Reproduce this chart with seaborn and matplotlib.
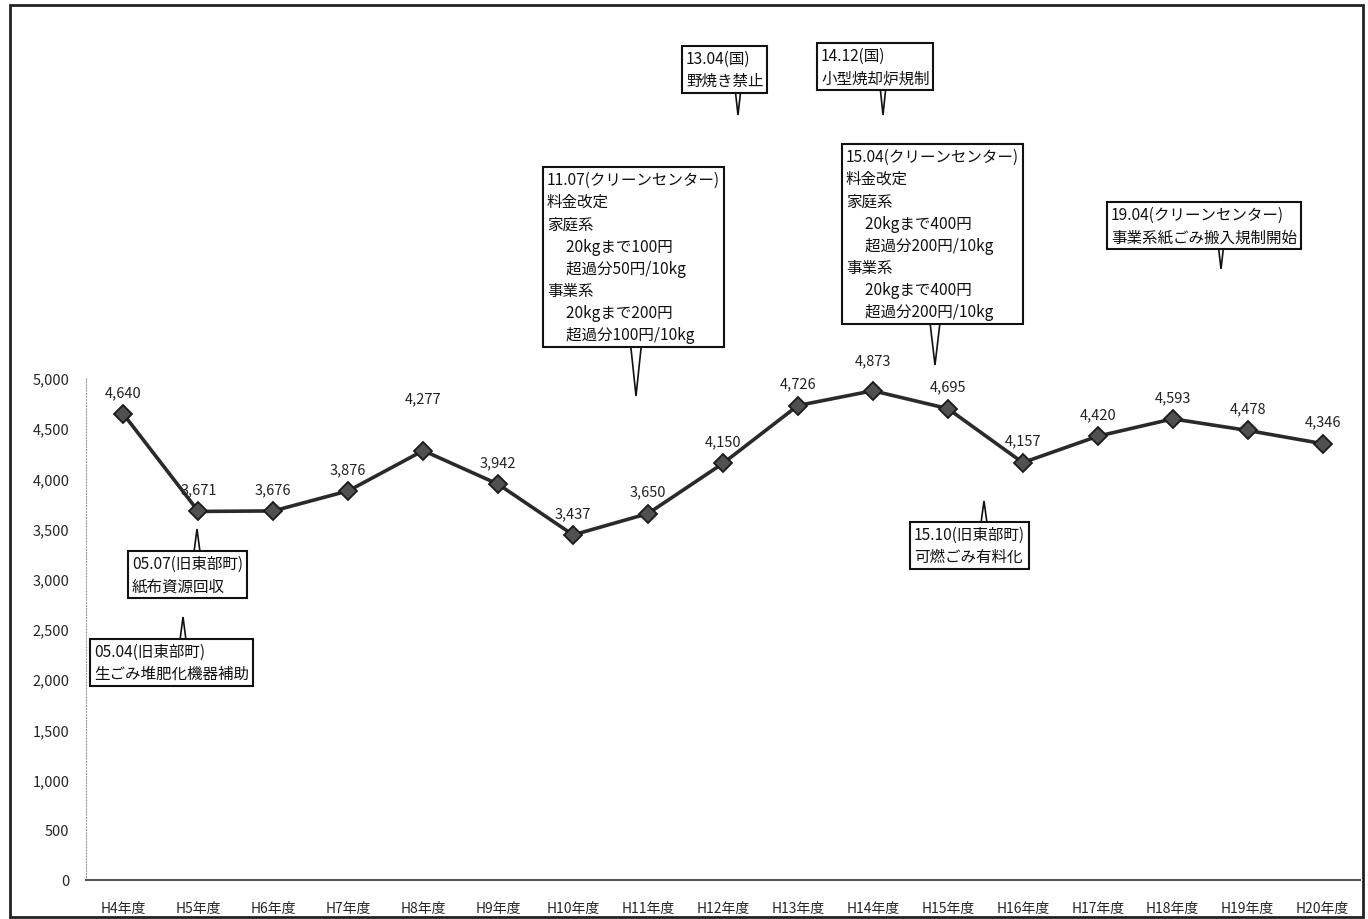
import numpy as np
import pandas as pd
import seaborn as sns
import matplotlib.pyplot as plt
from matplotlib.patches import Polygon, Rectangle

# data
years = ['H4年度', 'H5年度', 'H6年度', 'H7年度', 'H8年度', 'H9年度', 'H10年度', 'H11年度',
         'H12年度', 'H13年度', 'H14年度', 'H15年度', 'H16年度', 'H17年度', 'H18年度',
         'H19年度', 'H20年度']
amounts = [4640, 3671, 3676, 3876, 4277, 3942, 3437, 3650, 4150, 4726, 4873, 4695,
           4157, 4420, 4593, 4478, 4346]
y_ticks = list(range(0, 5001, 500))

notes = [
    '13.04(国)\n野焼き禁止',
    '14.12(国)\n小型焼却炉規制',
    '11.07(クリーンセンター)\n料金改定\n家庭系\n\u3000 20kgまで100円\n\u3000 超過分50円/10kg\n事業系\n\u3000 20kgまで200円\n\u3000 超過分100円/10kg',
    '15.04(クリーンセンター)\n料金改定\n家庭系\n\u3000 20kgまで400円\n\u3000 超過分200円/10kg\n事業系\n\u3000 20kgまで400円\n\u3000 超過分200円/10kg',
    '19.04(クリーンセンター)\n事業系紙ごみ搬入規制開始',
    '05.07(旧東部町)\n紙布資源回収',
    '05.04(旧東部町)\n生ごみ堆肥化機器補助',
    '15.10(旧東部町)\n可燃ごみ有料化',
]

# layout of callouts in image pixels: box left, box top, pointer x, pointer base y, tip y, half width
note_pos = [
    (682, 47, 738, 89, 116, 3),
    (817, 44, 883, 87, 116, 3),
    (543, 168, 636, 340, 397, 6),
    (842, 145, 935, 315, 366, 6),
    (1107, 203, 1221, 244, 270, 3),
    (128, 552, 197, 553, 530, 3),
    (90, 640, 183, 641, 618, 3),
    (910, 523, 984, 524, 502, 3),
]

# label offsets (pixels above marker)
label_offset = {4277: 52, 4873: 30}

W, H = 1368, 920

sns.set_style('white')
plt.rcParams['font.family'] = ['Noto Sans CJK JP', 'DejaVu Sans']

df = pd.DataFrame({'year': years, 'amount': amounts})
df['pos'] = np.arange(len(years))

fig = plt.figure(figsize=(W / 100, H / 100), dpi=100)
ax = fig.add_axes([86 / W, (H - 881) / H, (1360 - 86) / W, 502 / H])


def fx(x):
    return x / W


def fy(y):
    return 1 - y / H


sns.lineplot(data=df, x='pos', y='amount', ax=ax, sort=False, color='#2a2a2a', lw=2.6,
             marker='D', markersize=9.5, markerfacecolor='#505050', markeredgecolor='#1a1a1a',
             markeredgewidth=1.3)

ax.set_xlim(-0.5, len(years) - 0.5)
ax.set_ylim(0, 5000)
ax.set_yticks(y_ticks)
ax.set_yticklabels([f'{v:,}' for v in y_ticks], fontsize=10.5)
ax.set_xticks(df['pos'])
ax.set_xticklabels(years, fontsize=10)
ax.set_xticks(np.arange(0.5, len(years) - 0.4, 1), minor=True)
ax.tick_params(axis='x', which='major', length=0, pad=15)
ax.tick_params(axis='x', which='minor', length=5, color='#555555', width=1)
ax.tick_params(axis='y', length=4, color='#999999', pad=8)
ax.set_xlabel('')
ax.set_ylabel('')
sns.despine(ax=ax)
ax.spines['left'].set_linestyle(':')
ax.spines['left'].set_color('#999999')
ax.spines['bottom'].set_color('#555555')
ax.spines['bottom'].set_linewidth(1.5)

# data labels
for p, v in zip(df['pos'], df['amount']):
    off = label_offset.get(v, 22) * 0.72
    ax.annotate(f'{v:,}', (p, v), xytext=(0, off), textcoords='offset points',
                ha='center', va='center', fontsize=10.5, color='#222222')

# callouts
for text, (bl, bt, px, pb, pt, hw) in zip(notes, note_pos):
    wedge = Polygon([(fx(px - hw), fy(pb)), (fx(px + hw), fy(pb)), (fx(px), fy(pt))],
                    closed=True, transform=fig.transFigure, fc='white', ec='#111111',
                    lw=1.2, zorder=5)
    fig.add_artist(wedge)
    fig.text(fx(bl + 4), fy(bt + 4), text, ha='left', va='top', fontsize=11.2,
             linespacing=1.4, color='#111111', zorder=6,
             bbox=dict(boxstyle='square,pad=0.25', fc='white', ec='#111111', lw=1.5))

# outer frame
fig.add_artist(Rectangle((fx(10), fy(918)), (1363 - 10) / W, (918 - 6) / H,
                         transform=fig.transFigure, fill=False, ec='#222222', lw=2))

plt.savefig('out.png', dpi=100)
